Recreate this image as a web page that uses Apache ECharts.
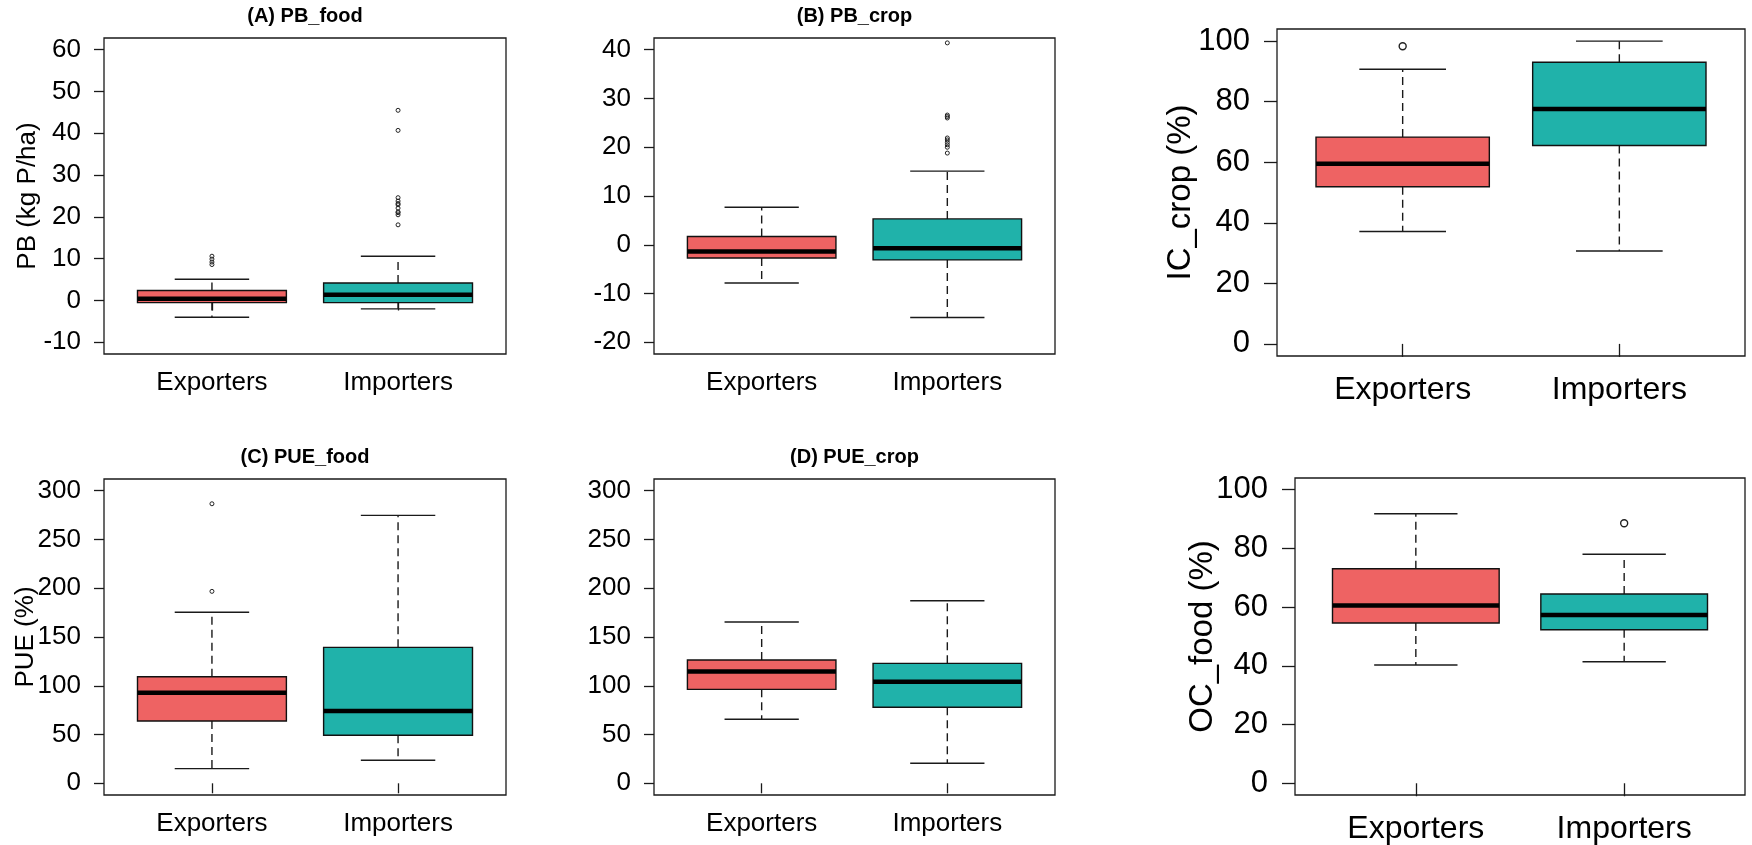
<!DOCTYPE html>
<html>
<head>
<meta charset="utf-8">
<script src="https://cdn.jsdelivr.net/npm/echarts@6/dist/echarts.min.js"></script>
<style>
  html, body { margin: 0; padding: 0; background: #fff; }
  #chart { width: 1752px; height: 845px; }
</style>
</head>
<body>
<div id="chart"></div>
<script>
// ---------------- DATA ----------------
const categories = ['Exporters', 'Importers'];

// box stats per group: [min whisker, Q1, median, Q3, max whisker]
const pbFoodBox = [[-4.0, -0.5, 0.4, 2.4, 5.1], [-2.0, -0.5, 1.4, 4.2, 10.6]];
const pbFoodOutExp = [10.6, 9.9, 9.2, 8.6];
const pbFoodOutImp = [45.5, 40.7, 24.6, 23.8, 23.2, 22.9, 22.1, 21.2, 21.0, 20.5, 18.1];
const pbFoodTicks = [-10, 0, 10, 20, 30, 40, 50, 60];

const pbCropBox = [[-7.85, -2.7, -1.4, 1.7, 7.7], [-14.9, -3.1, -0.7, 5.3, 15.1]];
const pbCropOutExp = [];
const pbCropOutImp = [41.4, 26.6, 26.3, 26.0, 21.9, 21.5, 21.0, 20.5, 20.0, 18.8];
const pbCropTicks = [-20, -10, 0, 10, 20, 30, 40];

const icCropBox = [[37.1, 51.9, 59.5, 68.3, 90.7], [30.7, 65.5, 77.6, 93.0, 100.0]];
const icCropOutExp = [98.3];
const icCropOutImp = [];
const icCropTicks = [0, 20, 40, 60, 80, 100];

const pueFoodBox = [[15.0, 63.9, 92.9, 109.3, 175.3], [23.6, 49.2, 74.1, 139.4, 274.7]];
const pueFoodOutExp = [286.6, 196.8];
const pueFoodOutImp = [];
const pueFoodTicks = [0, 50, 100, 150, 200, 250, 300];

const pueCropBox = [[65.6, 96.3, 114.5, 126.4, 165.4], [20.5, 77.9, 104.2, 123.0, 187.2]];
const pueCropOutExp = [];
const pueCropOutImp = [];
const pueCropTicks = [0, 50, 100, 150, 200, 250, 300];

const ocFoodBox = [[40.3, 54.6, 60.6, 73.1, 91.8], [41.4, 52.3, 57.3, 64.5, 78.0]];
const ocFoodOutExp = [];
const ocFoodOutImp = [88.6];
const ocFoodTicks = [0, 20, 40, 60, 80, 100];

// ---------------- STYLE / LAYOUT ----------------
const FONT = "'Liberation Sans', Arial, sans-serif";
const BOX_COLORS = ['#EE6363', '#20B2AA'];
const BOX_WEX = 0.8;

const small = { tickFont: 26, xFont: 26, nameFont: 26, yTick: 10, xTick: 10, yMargin: 23, xMargin: 16, outSize: 4, outBorder: 1 };
const big = { tickFont: 31, xFont: 32, nameFont: 33, yTick: 13, xTick: 13, yMargin: 27, xMargin: 18, outSize: 7, outBorder: 1.4 };

const panels = [
  { rect: [104, 38, 402, 316], title: '(A) PB_food', titleY: 16, name: 'PB (kg P/ha)', nameGap: 63, box: pbFoodBox, outE: pbFoodOutExp, outI: pbFoodOutImp, ticks: pbFoodTicks, s: small },
  { rect: [654, 38, 401, 316], title: '(B) PB_crop', titleY: 16, name: '', nameGap: 0, box: pbCropBox, outE: pbCropOutExp, outI: pbCropOutImp, ticks: pbCropTicks, s: small },
  { rect: [1277, 29, 468, 327], title: '', name: 'IC_crop (%)', nameGap: 80, box: icCropBox, outE: icCropOutExp, outI: icCropOutImp, ticks: icCropTicks, s: big },
  { rect: [104, 479, 402, 316], title: '(C) PUE_food', titleY: 457, name: 'PUE (%)', nameGap: 65, box: pueFoodBox, outE: pueFoodOutExp, outI: pueFoodOutImp, ticks: pueFoodTicks, s: small },
  { rect: [654, 479, 401, 316], title: '(D) PUE_crop', titleY: 457, name: '', nameGap: 0, box: pueCropBox, outE: pueCropOutExp, outI: pueCropOutImp, ticks: pueCropTicks, s: small },
  { rect: [1295, 478, 450, 317], title: '', name: 'OC_food (%)', nameGap: 76, box: ocFoodBox, outE: ocFoodOutExp, outI: ocFoodOutImp, ticks: ocFoodTicks, s: big }
];

function renderBox(params, api) {
  const x = api.value(0);
  const lo = api.coord([x, api.value(1)]);
  const q1 = api.coord([x, api.value(2)]);
  const md = api.coord([x, api.value(3)]);
  const q3 = api.coord([x, api.value(4)]);
  const hi = api.coord([x, api.value(5)]);
  const hw = api.size([BOX_WEX / 2, 0])[0];
  const sw = hw / 2;
  const cx = lo[0];
  const color = BOX_COLORS[Math.round(x) - 1];
  const lineStyle = { stroke: '#1a1a1a', lineWidth: 1.4 };
  const dashStyle = { stroke: '#1a1a1a', lineWidth: 1.4, lineDash: [8, 5] };
  return {
    type: 'group',
    children: [
      { type: 'line', shape: { x1: cx, y1: q3[1], x2: cx, y2: hi[1] }, style: dashStyle },
      { type: 'line', shape: { x1: cx, y1: q1[1], x2: cx, y2: lo[1] }, style: dashStyle },
      { type: 'line', shape: { x1: cx - sw, y1: hi[1], x2: cx + sw, y2: hi[1] }, style: lineStyle },
      { type: 'line', shape: { x1: cx - sw, y1: lo[1], x2: cx + sw, y2: lo[1] }, style: lineStyle },
      { type: 'rect', shape: { x: cx - hw, y: q3[1], width: 2 * hw, height: q1[1] - q3[1] }, style: { fill: color, stroke: '#111', lineWidth: 1.4 } },
      { type: 'line', shape: { x1: cx - hw, y1: md[1], x2: cx + hw, y2: md[1] }, style: { stroke: '#000', lineWidth: 4.5 } }
    ]
  };
}

const grid = [], xAxis = [], yAxis = [], series = [], graphic = [];

panels.forEach((p, i) => {
  const [l, t, w, h] = p.rect;
  const s = p.s;
  grid.push({ left: l, top: t, width: w, height: h, show: true, borderColor: '#1a1a1a', borderWidth: 1.3, backgroundColor: 'transparent', containLabel: false, outerBoundsMode: 'none' });

  // R-style x range: (0.5, n + 0.5) extended by 4%
  const xSpan = categories.length;
  const xMin = 0.5 - xSpan * 0.04;
  const xMax = categories.length + 0.5 + xSpan * 0.04;
  const catPos = categories.map((c, k) => k + 1);
  xAxis.push({
    type: 'value', gridIndex: i, min: xMin, max: xMax,
    axisLine: { show: false },
    splitLine: { show: false },
    axisTick: { show: true, customValues: catPos, length: s.xTick, lineStyle: { color: '#1a1a1a', width: 1.3 } },
    axisLabel: {
      customValues: catPos, margin: s.xMargin, color: '#000', fontFamily: FONT, fontSize: s.xFont,
      formatter: v => categories[Math.round(v) - 1] || ''
    }
  });

  const tMin = Math.min(...p.ticks), tMax = Math.max(...p.ticks);
  const ext = (tMax - tMin) * 0.04;
  yAxis.push({
    type: 'value', gridIndex: i, min: tMin - ext, max: tMax + ext,
    name: p.name, nameLocation: 'middle', nameGap: p.nameGap, nameRotate: 90,
    nameMoveOverlap: false,
    nameTextStyle: { color: '#000', fontFamily: FONT, fontSize: s.nameFont },
    axisLine: { show: false },
    splitLine: { show: false },
    axisTick: { show: true, customValues: p.ticks, length: s.yTick, lineStyle: { color: '#1a1a1a', width: 1.3 } },
    axisLabel: { customValues: p.ticks, margin: s.yMargin, color: '#000', fontFamily: FONT, fontSize: s.tickFont }
  });

  series.push({
    type: 'custom', xAxisIndex: i, yAxisIndex: i,
    renderItem: renderBox,
    encode: { x: 0, y: [1, 2, 3, 4, 5] },
    data: p.box.map((b, k) => [k + 1].concat(b)),
    silent: true, clip: false, z: 2
  });

  const outData = p.outE.map(v => [1, v]).concat(p.outI.map(v => [2, v]));
  series.push({
    type: 'scatter', xAxisIndex: i, yAxisIndex: i,
    symbol: 'circle', symbolSize: s.outSize,
    itemStyle: { color: 'rgba(255,255,255,0)', borderColor: '#222', borderWidth: s.outBorder, opacity: 1 },
    data: outData, silent: true, z: 3
  });

  if (p.title) {
    graphic.push({
      type: 'text', x: l + w / 2, y: p.titleY,
      style: { text: p.title, textAlign: 'center', textVerticalAlign: 'middle', fill: '#000', font: 'bold 20px ' + FONT }
    });
  }
});

const chart = echarts.init(document.getElementById('chart'), null, { renderer: 'canvas' });
chart.setOption({
  backgroundColor: '#ffffff',
  animation: false,
  grid, xAxis, yAxis, series, graphic
});
</script>
</body>
</html>
